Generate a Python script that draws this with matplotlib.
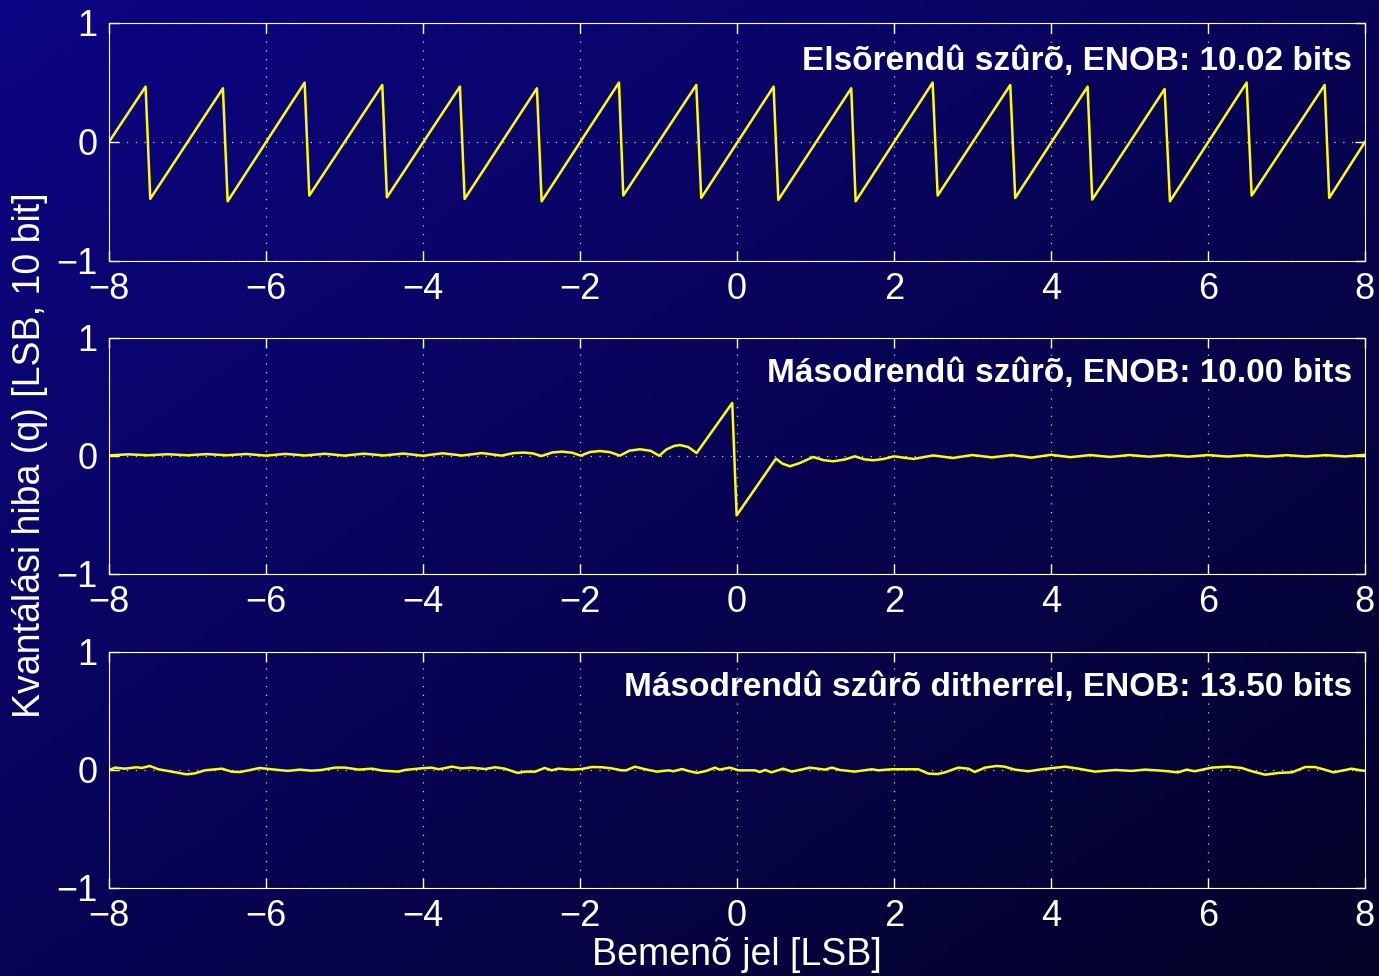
import numpy as np
import matplotlib
matplotlib.use("Agg")
import matplotlib.pyplot as plt

plt.rcParams['font.family'] = ['Liberation Sans', 'DejaVu Sans']

# elsorendu szuro: sawtooth vertices (peaks / troughs)
saw_x = [-8.0, -7.533, -7.474, -6.548, -6.488, -5.507, -5.448, -4.518, -4.459,
         -3.529, -3.469, -2.548, -2.488, -1.503, -1.448, -0.518, -0.455,
         0.467, 0.527, 1.456, 1.512, 2.493, 2.557, 3.482, 3.545,
         4.467, 4.526, 5.448, 5.516, 6.493, 6.557, 7.487, 7.545, 8.0]
saw_y = [0.0, 0.465, -0.478, 0.451, -0.499, 0.499, -0.450, 0.479, -0.465,
         0.465, -0.479, 0.451, -0.499, 0.499, -0.450, 0.479, -0.470,
         0.465, -0.487, 0.451, -0.499, 0.499, -0.450, 0.479, -0.470,
         0.465, -0.484, 0.445, -0.499, 0.499, -0.450, 0.479, -0.470, 0.0]

# masodrendu szuro
mid_x = [-8.0, -7.75, -7.5, -7.25, -7.0, -6.75, -6.5, -6.25, -6.0, -5.75, -5.5,
         -5.25, -5.0, -4.75, -4.5, -4.25, -4.0, -3.75, -3.5, -3.25, -3.0,
         -2.85, -2.72, -2.6, -2.49, -2.35, -2.23, -2.1, -1.99, -1.87, -1.745,
         -1.62, -1.49, -1.37, -1.236, -1.1, -0.99, -0.9, -0.8, -0.726, -0.62,
         -0.514, -0.06, -0.004, 0.497, 0.58, 0.675, 0.8, 0.972, 1.1, 1.227,
         1.37, 1.503, 1.62, 1.737, 1.87, 2.0, 2.25, 2.5, 2.75, 3.0, 3.25, 3.5,
         3.75, 4.0, 4.25, 4.5, 4.75, 5.0, 5.25, 5.5, 5.75, 6.0, 6.25, 6.5,
         6.75, 7.0, 7.25, 7.5, 7.75, 8.0]
mid_y = [0.005, 0.014, 0.006, 0.015, 0.006, 0.016, 0.006, 0.017, 0.003, 0.018, 0.004,
         0.019, 0.003, 0.020, 0.004, 0.021, 0.002, 0.023, 0.004, 0.025, 0.003,
         0.024, 0.029, 0.022, 0.000, 0.030, 0.037, 0.028, 0.003, 0.034, 0.042,
         0.033, 0.003, 0.045, 0.057, 0.044, 0.002, 0.055, 0.085, 0.093, 0.076,
         0.025, 0.449, -0.503, -0.022, -0.065, -0.087, -0.060, -0.008, -0.035, -0.045,
         -0.030, -0.003, -0.028, -0.036, -0.025, -0.003, -0.025, 0.005, -0.017, 0.008, -0.012, 0.008,
         -0.014, 0.010, -0.010, 0.008, -0.008, 0.008, -0.006, 0.008, -0.006, 0.008, -0.005, 0.007,
         -0.005, 0.007, -0.004, 0.007, -0.004, 0.010]

# masodrendu szuro ditherrel
dith_x = [-8.00, -7.92, -7.80, -7.65, -7.58, -7.48, -7.37, -7.20, -7.01, -6.90,
          -6.78, -6.56, -6.44, -6.33, -6.22, -6.08, -5.93, -5.72, -5.57, -5.42,
          -5.29, -5.12, -4.99, -4.82, -4.65, -4.51, -4.31, -4.23, -4.02, -3.89,
          -3.80, -3.63, -3.51, -3.38, -3.21, -3.08, -2.96, -2.79, -2.70, -2.57,
          -2.45, -2.36, -2.28, -2.11, -1.98, -1.85, -1.72, -1.60, -1.47, -1.41,
          -1.30, -1.17, -1.02, -0.87, -0.81, -0.70, -0.62, -0.51, -0.39, -0.28,
          -0.22, -0.09, 0.02, 0.23, 0.29, 0.36, 0.44, 0.59, 0.70, 0.93,
          1.12, 1.21, 1.31, 1.50, 1.72, 1.80, 1.97, 2.31, 2.44, 2.56,
          2.65, 2.82, 2.95, 3.03, 3.16, 3.31, 3.41, 3.54, 3.71, 3.88,
          4.18, 4.35, 4.56, 4.82, 5.03, 5.20, 5.41, 5.62, 5.73, 5.83,
          6.05, 6.26, 6.43, 6.56, 6.73, 6.90, 7.07, 7.24, 7.36, 7.47,
          7.60, 7.75, 7.83, 7.92, 8.00]
dith_y = [0.000, 0.020, 0.011, 0.023, 0.017, 0.034, 0.006, -0.014, -0.037, -0.028,
          -0.003, 0.011, -0.014, -0.017, -0.003, 0.017, 0.006, -0.008, 0.003, -0.006,
          0.000, 0.020, 0.020, 0.003, 0.011, -0.006, -0.014, 0.000, 0.014, 0.020,
          0.006, 0.028, 0.014, 0.020, 0.008, 0.023, 0.011, -0.025, -0.014, -0.014,
          0.017, -0.003, 0.011, 0.003, 0.008, 0.025, 0.023, 0.014, -0.003, -0.003,
          0.028, 0.006, -0.014, -0.003, -0.011, 0.008, -0.008, -0.025, -0.008, 0.020,
          0.003, 0.020, -0.003, -0.003, -0.017, 0.000, -0.020, 0.011, -0.014, 0.020,
          0.003, 0.020, 0.000, -0.014, 0.006, -0.003, 0.006, 0.006, -0.031, -0.034,
          -0.020, 0.020, 0.011, -0.017, 0.020, 0.034, 0.028, 0.003, -0.011, 0.006,
          0.028, 0.011, -0.014, 0.000, -0.008, 0.003, -0.006, -0.020, 0.003, -0.011,
          0.020, 0.028, 0.017, -0.011, -0.040, -0.025, -0.020, 0.025, 0.025, 0.006,
          -0.020, 0.000, 0.011, 0.000, -0.008]

titles = ["Elsõrendû szûrõ, ENOB: 10.02 bits",
          "Másodrendû szûrõ, ENOB: 10.00 bits",
          "Másodrendû szûrõ ditherrel, ENOB: 13.50 bits"]
xticks = [-8, -6, -4, -2, 0, 2, 4, 6, 8]
yticks = [-1, 0, 1]

fig = plt.figure(figsize=(13.79, 9.76), dpi=100)

# diagonal blue gradient behind everything
bg = fig.add_axes([0, 0, 1, 1], zorder=-10)
yy, xx = np.mgrid[0:1:200j, 0:1:280j]
t = 0.5 * xx + 0.5 * yy
c0 = np.array([0.05, 0.02, 0.52])
c1 = np.array([0.01, 0.01, 0.15])
img = c0[None, None, :] * (1 - t[..., None]) + c1[None, None, :] * t[..., None]
bg.imshow(img, aspect='auto', extent=[0, 1, 0, 1], origin='upper')
bg.axis('off')

positions = [[0.079, 0.7326, 0.9108, 0.2439],
             [0.079, 0.4119, 0.9108, 0.2418],
             [0.079, 0.0902, 0.9108, 0.2418]]
series = [(saw_x, saw_y), (mid_x, mid_y), (dith_x, dith_y)]
title_y = [0.84, 0.85, 0.85]

for pos, (x, y), title, ty in zip(positions, series, titles, title_y):
    ax = fig.add_axes(pos)
    ax.set_facecolor('none')
    ax.plot(x, y, color='#ffff00', linewidth=1.8)
    ax.set_xlim(-8, 8)
    ax.set_ylim(-1, 1)
    ax.set_xticks(xticks)
    ax.set_yticks(yticks)
    ax.grid(True, color='white', linestyle=(0, (1, 6)), linewidth=0.9, alpha=0.8)
    ax.tick_params(direction='in', top=True, right=True, colors='white',
                   labelsize=26, length=7, width=1, pad=8)
    for s in ax.spines.values():
        s.set_color('white')
    ax.text(0.9896, ty, title, transform=ax.transAxes, ha='right', va='center',
            fontsize=24, fontweight='bold', color='white')

fig.text(0.022, 1 - 455 / 976, "Kvantálási hiba (q) [LSB, 10 bit]", rotation=90,
         ha='center', va='center', fontsize=27, color='white')
fig.text(737 / 1379, 1 - 955 / 976, "Bemenõ jel [LSB]", ha='center', va='center',
         fontsize=27, color='white')

fig.savefig('out.png', dpi=100)
plt.close()
